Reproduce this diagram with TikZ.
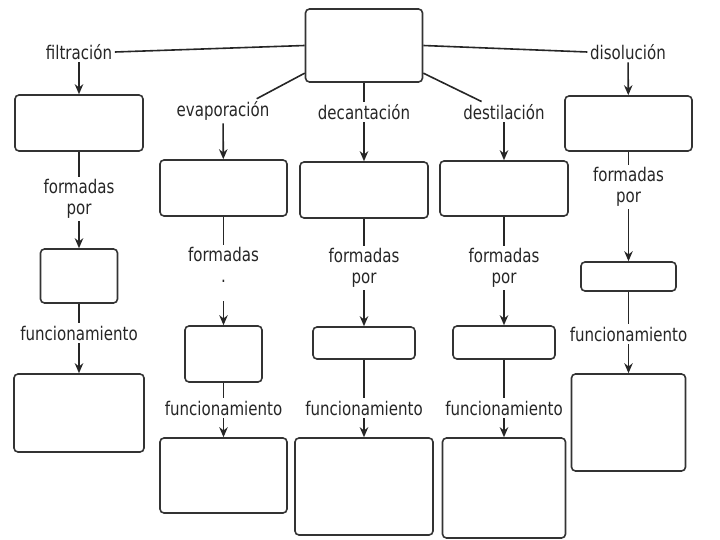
\documentclass[tikz,border=0pt]{standalone}
\usepackage{fontspec}
\newfontfamily\estrecha[FakeStretch=0.8]{DejaVu Sans}
\usetikzlibrary{arrows.meta}

\begin{document}
\begin{tikzpicture}[x=1pt, y=-1pt, >={Stealth[length=10pt,width=8.5pt]},
  line width=1.6pt, draw=black!85,
  caja/.style={draw=black!80, fill=white, rounded corners=4pt, inner sep=0pt},
  etiq/.style={font=\estrecha\fontsize{18.8}{21}\selectfont, text=black!85,
    align=center, inner sep=2pt}]
  \useasboundingbox (0,0) rectangle (720,540);

  \node[caja, minimum width=117pt, minimum height=73pt] (top) at (364,45.5) {};

  \node[etiq] (filt) at (79,52) {filtración};
  \node[etiq] (evap) at (223,111) {evaporación};
  \node[etiq] (deca) at (364,112) {decantación};
  \node[etiq] (dest) at (504,112) {destilación};
  \node[etiq] (diso) at (628,52) {disolución};

  \draw (top.west) -- (filt.east);
  \draw (top.205) -- (evap.20);
  \draw (top.south) -- (deca.north);
  \draw (top.335) -- (dest.155);
  \draw (top.east) -- (diso.west);

  % filtración
  \node[caja, minimum width=128pt, minimum height=56pt] (b11) at (79,123) {};
  \node[etiq] (form1) at (79,199) {formadas\\por};
  \node[caja, minimum width=77pt, minimum height=54pt] (b12) at (79,276) {};
  \node[etiq] (func1) at (79,333) {funcionamiento};
  \node[caja, minimum width=130pt, minimum height=78pt] (b13) at (79,413) {};
  \draw[->] (filt) -- (b11);
  \draw (b11) -- (form1);
  \draw[->] (form1) -- (b12);
  \draw (b12) -- (func1);
  \draw[->] (func1) -- (b13);

  % evaporación
  \node[caja, minimum width=127pt, minimum height=56pt] (b21) at (223.5,188) {};
  \node[etiq] (form2) at (223.5,265) {formadas\\.};
  \node[caja, minimum width=77pt, minimum height=56pt] (b22) at (223.5,354) {};
  \node[etiq] (func2) at (223.5,408) {funcionamiento};
  \node[caja, minimum width=127pt, minimum height=75pt] (b23) at (223.5,475.5) {};
  \draw[->] (evap) -- (b21);
  \draw (b21) -- (form2);
  \draw[->, shorten <=16pt] (form2) -- (b22);
  \draw (b22) -- (func2);
  \draw[->] (func2) -- (b23);

  % decantación
  \node[caja, minimum width=128pt, minimum height=56pt] (b31) at (364,190) {};
  \node[etiq] (form3) at (364,268) {formadas\\por};
  \node[caja, minimum width=102pt, minimum height=32pt] (b32) at (364,343) {};
  \node[etiq] (func3) at (364,408) {funcionamiento};
  \node[caja, minimum width=138pt, minimum height=97pt] (b33) at (364,486.5) {};
  \draw[->] (deca) -- (b31);
  \draw (b31) -- (form3);
  \draw[->] (form3) -- (b32);
  \draw (b32) -- (func3);
  \draw[->] (func3) -- (b33);

  % destilación
  \node[caja, minimum width=128pt, minimum height=55pt] (b41) at (504,188.5) {};
  \node[etiq] (form4) at (504,268) {formadas\\por};
  \node[caja, minimum width=102pt, minimum height=33pt] (b42) at (504,342.5) {};
  \node[etiq] (func4) at (504,408) {funcionamiento};
  \node[caja, minimum width=123pt, minimum height=100pt] (b43) at (504,488) {};
  \draw[->] (dest) -- (b41);
  \draw (b41) -- (form4);
  \draw[->] (form4) -- (b42);
  \draw (b42) -- (func4);
  \draw[->] (func4) -- (b43);

  % disolución
  \node[caja, minimum width=127pt, minimum height=55pt] (b51) at (628.5,123.5) {};
  \node[etiq] (form5) at (628.5,187) {formadas\\por};
  \node[caja, minimum width=95pt, minimum height=29pt] (b52) at (628.5,276.5) {};
  \node[etiq] (func5) at (628.5,334) {funcionamiento};
  \node[caja, minimum width=114pt, minimum height=97pt] (b53) at (628.5,422.5) {};
  \draw[->] (diso) -- (b51);
  \draw (b51) -- (form5);
  \draw[->] (form5) -- (b52);
  \draw (b52) -- (func5);
  \draw[->] (func5) -- (b53);
\end{tikzpicture}
\end{document}
